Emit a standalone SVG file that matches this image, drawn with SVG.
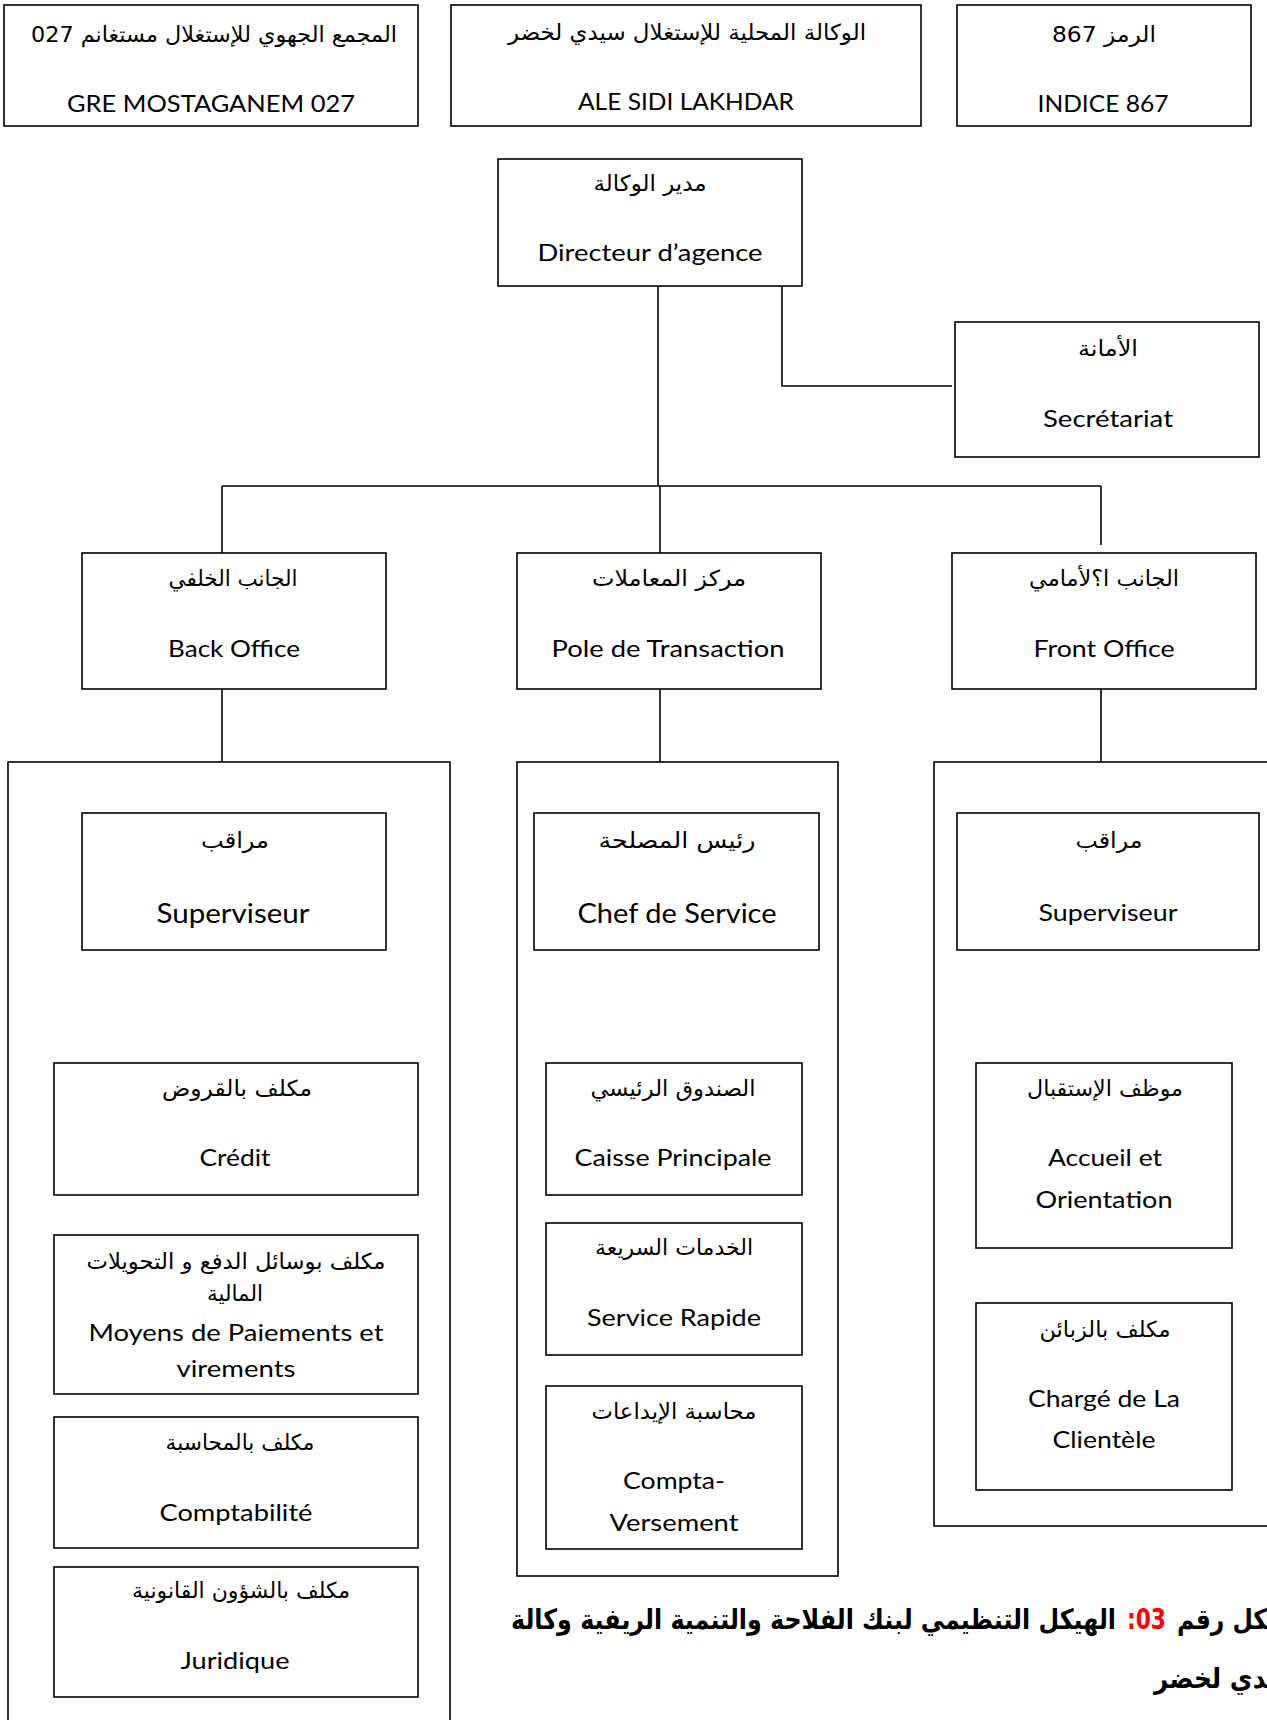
<svg xmlns="http://www.w3.org/2000/svg" width="1267" height="1720" viewBox="0 0 1267 1720">
<style>
.bg{fill:#fff}
.box{fill:#fff;stroke:#000;stroke-width:1.6}
.grp{fill:none;stroke:#000;stroke-width:1.6}
.ln{fill:none;stroke:#000;stroke-width:1.6}
.ar{font-family:"DejaVu Sans",sans-serif;font-size:22px;text-anchor:middle;direction:rtl;fill:#000}
.en{font-family:Lato,"Liberation Sans",sans-serif;font-size:23px;text-anchor:middle;fill:#000}
.big{font-size:26px}
.cap{font-family:"DejaVu Sans",sans-serif;font-size:28px;font-weight:bold;direction:rtl;text-anchor:start;fill:#000}
.red{fill:#ff0000}
</style>
<rect class="bg" x="0" y="0" width="1267" height="1720"/>

<g id="groups">
<rect class="grp" x="8" y="762" width="442" height="1000"/>
<rect class="grp" x="517" y="762" width="321" height="814"/>
<rect class="grp" x="934" y="762" width="360" height="764"/>
</g>

<g id="connectors">
<path class="ln" d="M658 286V486"/>
<path class="ln" d="M222 486H1101"/>
<path class="ln" d="M222 486V553"/>
<path class="ln" d="M660 486V553"/>
<path class="ln" d="M1101 486V545"/>
<path class="ln" d="M782 286V386H952"/>
<path class="ln" d="M222 689V762"/>
<path class="ln" d="M660 689V762"/>
<path class="ln" d="M1101 689V762"/>
</g>

<g id="gre">
<rect class="box" x="4" y="5" width="414" height="121"/>
<text class="ar" x="214" y="42" textLength="366" lengthAdjust="spacingAndGlyphs">المجمع الجهوي للإستغلال مستغانم 027</text>
<text class="en" x="211" y="112" textLength="288" lengthAdjust="spacingAndGlyphs">GRE MOSTAGANEM 027</text>
</g>
<g id="ale">
<rect class="box" x="451" y="5" width="470" height="121"/>
<text class="ar" x="687" y="40" textLength="358" lengthAdjust="spacingAndGlyphs">الوكالة المحلية للإستغلال سيدي لخضر</text>
<text class="en" x="686" y="110" textLength="216" lengthAdjust="spacingAndGlyphs">ALE SIDI LAKHDAR</text>
</g>
<g id="indice">
<rect class="box" x="957" y="5" width="294" height="121"/>
<text class="ar" x="1104" y="42" textLength="104" lengthAdjust="spacingAndGlyphs">الرمز 867</text>
<text class="en" x="1103" y="112" textLength="131" lengthAdjust="spacingAndGlyphs">INDICE 867</text>
</g>

<g id="directeur">
<rect class="box" x="498" y="159" width="304" height="127"/>
<text class="ar" x="650" y="191" textLength="113" lengthAdjust="spacingAndGlyphs">مدير الوكالة</text>
<text class="en" x="650" y="261" textLength="225" lengthAdjust="spacingAndGlyphs">Directeur d’agence</text>
</g>
<g id="secretariat">
<rect class="box" x="955" y="322" width="304" height="135"/>
<text class="ar" x="1108" y="356" textLength="60" lengthAdjust="spacingAndGlyphs">الأمانة</text>
<text class="en" x="1108" y="427" textLength="130" lengthAdjust="spacingAndGlyphs">Secrétariat</text>
</g>

<g id="back-office">
<rect class="box" x="82" y="553" width="304" height="136"/>
<text class="ar" x="233" y="586" textLength="129" lengthAdjust="spacingAndGlyphs">الجانب الخلفي</text>
<text class="en" x="234" y="657" textLength="132" lengthAdjust="spacingAndGlyphs">Back Office</text>
</g>
<g id="pole">
<rect class="box" x="517" y="553" width="304" height="136"/>
<text class="ar" x="669" y="586" textLength="154" lengthAdjust="spacingAndGlyphs">مركز المعاملات</text>
<text class="en" x="668" y="657" textLength="233" lengthAdjust="spacingAndGlyphs">Pole de Transaction</text>
</g>
<g id="front-office">
<rect class="box" x="952" y="553" width="304" height="136"/>
<text class="ar" x="1104" y="586" textLength="150" lengthAdjust="spacingAndGlyphs">الجانب ا؟لأمامي</text>
<text class="en" x="1104" y="657" textLength="141" lengthAdjust="spacingAndGlyphs">Front Office</text>
</g>

<g id="superviseur-back">
<rect class="box" x="82" y="813" width="304" height="137"/>
<text class="ar" x="235" y="848" textLength="68" lengthAdjust="spacingAndGlyphs">مراقب</text>
<text class="en big" x="233" y="923" textLength="153" lengthAdjust="spacingAndGlyphs">Superviseur</text>
</g>
<g id="credit">
<rect class="box" x="54" y="1063" width="364" height="132"/>
<text class="ar" x="237" y="1096" textLength="150" lengthAdjust="spacingAndGlyphs">مكلف بالقروض</text>
<text class="en" x="235" y="1166" textLength="71" lengthAdjust="spacingAndGlyphs">Crédit</text>
</g>
<g id="moyens">
<rect class="box" x="54" y="1235" width="364" height="159"/>
<text class="ar" x="236" y="1269" textLength="299" lengthAdjust="spacingAndGlyphs">مكلف بوسائل الدفع و التحويلات</text>
<text class="ar" x="235" y="1301" textLength="56" lengthAdjust="spacingAndGlyphs">المالية</text>
<text class="en" x="236" y="1341" textLength="295" lengthAdjust="spacingAndGlyphs">Moyens de Paiements et</text>
<text class="en" x="236" y="1377" textLength="119" lengthAdjust="spacingAndGlyphs">virements</text>
</g>
<g id="comptabilite">
<rect class="box" x="54" y="1417" width="364" height="131"/>
<text class="ar" x="240" y="1450" textLength="149" lengthAdjust="spacingAndGlyphs">مكلف بالمحاسبة</text>
<text class="en" x="236" y="1521" textLength="153" lengthAdjust="spacingAndGlyphs">Comptabilité</text>
</g>
<g id="juridique">
<rect class="box" x="54" y="1567" width="364" height="130"/>
<text class="ar" x="241" y="1598" textLength="218" lengthAdjust="spacingAndGlyphs">مكلف بالشؤون القانونية</text>
<text class="en" x="235" y="1669" textLength="109" lengthAdjust="spacingAndGlyphs">Juridique</text>
</g>

<g id="chef-service">
<rect class="box" x="534" y="813" width="285" height="137"/>
<text class="ar" x="677" y="848" textLength="157" lengthAdjust="spacingAndGlyphs">رئيس المصلحة</text>
<text class="en big" x="677" y="923" textLength="199" lengthAdjust="spacingAndGlyphs">Chef de Service</text>
</g>
<g id="caisse">
<rect class="box" x="546" y="1063" width="256" height="132"/>
<text class="ar" x="673" y="1096" textLength="165" lengthAdjust="spacingAndGlyphs">الصندوق الرئيسي</text>
<text class="en" x="673" y="1166" textLength="197" lengthAdjust="spacingAndGlyphs">Caisse Principale</text>
</g>
<g id="service-rapide">
<rect class="box" x="546" y="1223" width="256" height="132"/>
<text class="ar" x="674" y="1255" textLength="158" lengthAdjust="spacingAndGlyphs">الخدمات السريعة</text>
<text class="en" x="674" y="1326" textLength="174" lengthAdjust="spacingAndGlyphs">Service Rapide</text>
</g>
<g id="compta-versement">
<rect class="box" x="546" y="1386" width="256" height="163"/>
<text class="ar" x="674" y="1419" textLength="165" lengthAdjust="spacingAndGlyphs">محاسبة الإيداعات</text>
<text class="en" x="674" y="1489" textLength="102" lengthAdjust="spacingAndGlyphs">Compta-</text>
<text class="en" x="674" y="1531" textLength="129" lengthAdjust="spacingAndGlyphs">Versement</text>
</g>

<g id="superviseur-front">
<rect class="box" x="957" y="813" width="302" height="137"/>
<text class="ar" x="1109" y="848" textLength="67" lengthAdjust="spacingAndGlyphs">مراقب</text>
<text class="en" x="1108" y="921" textLength="139" lengthAdjust="spacingAndGlyphs">Superviseur</text>
</g>
<g id="accueil">
<rect class="box" x="976" y="1063" width="256" height="185"/>
<text class="ar" x="1105" y="1096" textLength="156" lengthAdjust="spacingAndGlyphs">موظف الإستقبال</text>
<text class="en" x="1105" y="1166" textLength="114" lengthAdjust="spacingAndGlyphs">Accueil et</text>
<text class="en" x="1104" y="1208" textLength="137" lengthAdjust="spacingAndGlyphs">Orientation</text>
</g>
<g id="charge-clientele">
<rect class="box" x="976" y="1303" width="256" height="187"/>
<text class="ar" x="1105" y="1337" textLength="131" lengthAdjust="spacingAndGlyphs">مكلف بالزبائن</text>
<text class="en" x="1104" y="1407" textLength="152" lengthAdjust="spacingAndGlyphs">Chargé de La</text>
<text class="en" x="1104" y="1448" textLength="103" lengthAdjust="spacingAndGlyphs">Clientèle</text>
</g>

<g id="caption">
<text class="cap" x="1267" y="1629" textLength="90" lengthAdjust="spacingAndGlyphs">&#x200D;كل رقم</text>
<text class="cap red" x="1166" y="1629" textLength="39" lengthAdjust="spacingAndGlyphs">03:</text>
<text class="cap" x="1116" y="1629" textLength="605" lengthAdjust="spacingAndGlyphs">الهيكل التنظيمي لبنك الفلاحة والتنمية الريفية وكالة</text>
<text class="cap" x="1267" y="1688" textLength="113" lengthAdjust="spacingAndGlyphs">&#x200D;دي لخضر</text>
</g>
</svg>
